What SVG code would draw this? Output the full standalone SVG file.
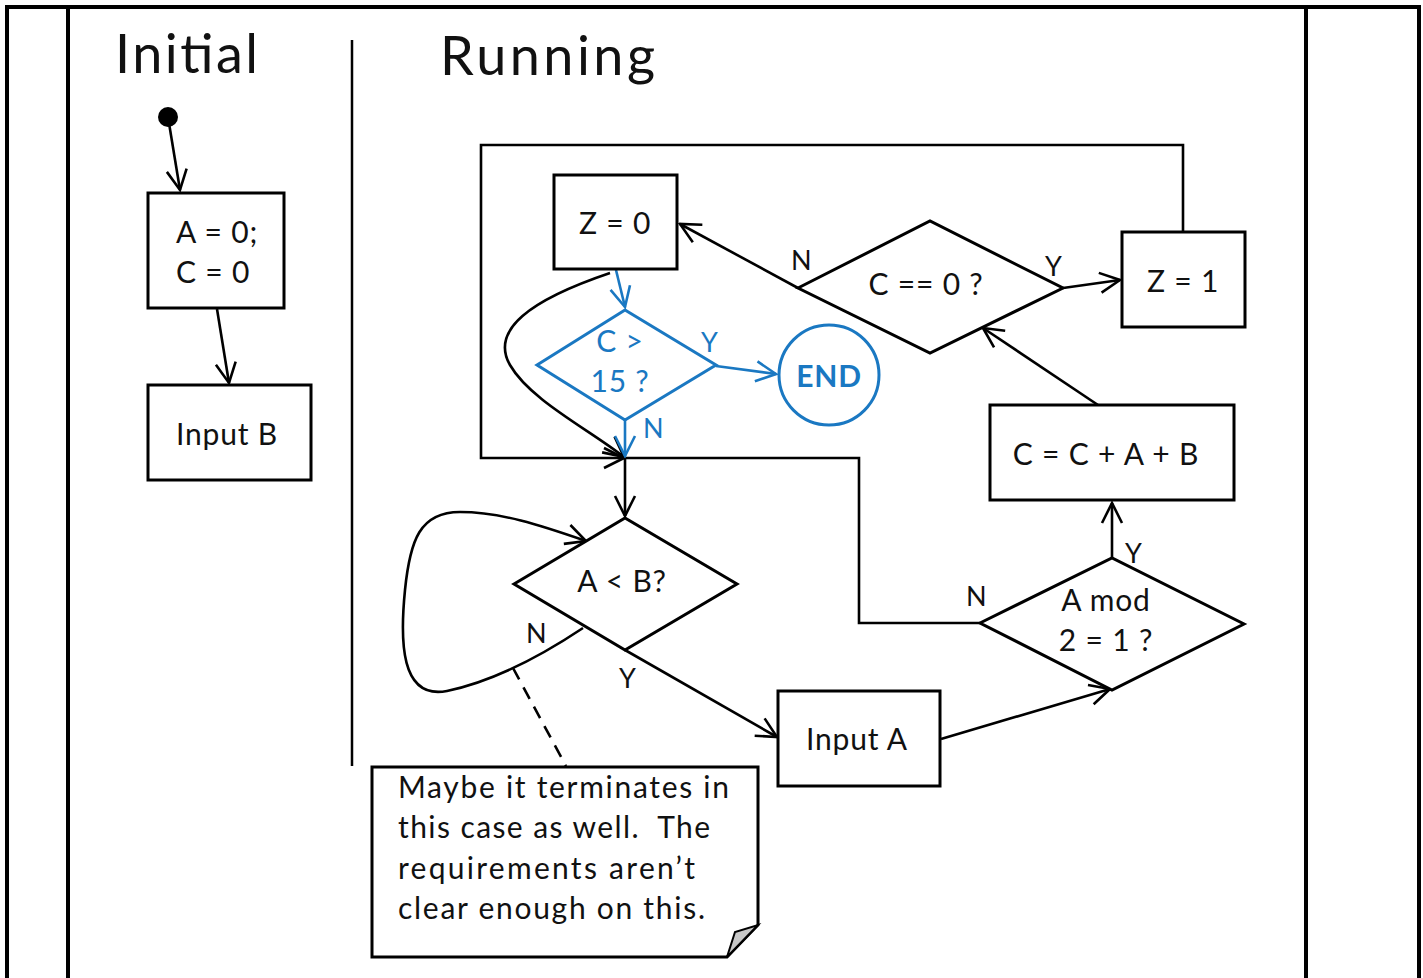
<svg xmlns="http://www.w3.org/2000/svg" width="1423" height="978" viewBox="0 0 1423 978">
<style>
text{font-family:Lato,"Liberation Sans",sans-serif;fill:#111}
.t{font-size:30px;letter-spacing:0.8px}
.n{font-size:30px}
.h{font-size:54px}
.lb{font-size:27px}
.b{fill:none;stroke:#000;stroke-width:3}
.box{fill:#fff;stroke:#000;stroke-width:3}
.blue{fill:none;stroke:#1a78c2;stroke-width:3}
.bt{fill:#1a78c2}
.c{fill:none;stroke:#000;stroke-width:2.6}
.ca{fill:none;stroke:#000;stroke-width:2.6;marker-end:url(#ah)}
.cb{fill:none;stroke:#1a78c2;stroke-width:2.6;marker-end:url(#ahb)}
</style>
<defs>
<marker id="ah" markerUnits="userSpaceOnUse" viewBox="0 0 24 24" refX="22" refY="12" markerWidth="24" markerHeight="24" orient="auto">
<path d="M2,2 L22,12 L2,22" fill="none" stroke="#000" stroke-width="2.6"/>
</marker>
<marker id="ahb" markerUnits="userSpaceOnUse" viewBox="0 0 24 24" refX="22" refY="12" markerWidth="24" markerHeight="24" orient="auto">
<path d="M2,2 L22,12 L2,22" fill="none" stroke="#1a78c2" stroke-width="2.6"/>
</marker>
</defs>
<rect width="1423" height="978" fill="#fff"/>
<g id="frame">
<path d="M7,978 V7 H1419 V978" fill="none" stroke="#000" stroke-width="4"/>
<line x1="68" y1="7" x2="68" y2="978" stroke="#000" stroke-width="4"/>
<line x1="1306" y1="7" x2="1306" y2="978" stroke="#000" stroke-width="4"/>
<line x1="352" y1="40" x2="352" y2="766" stroke="#000" stroke-width="2.5"/>
<text class="h" x="115" y="73" textLength="143" lengthAdjust="spacing">Initial</text>
<text class="h" x="440" y="75" textLength="215" lengthAdjust="spacing">Running</text>
</g>
<g id="connectors">
<line class="ca" x1="168" y1="117" x2="180" y2="190"/>
<line class="ca" x1="217" y1="309" x2="229" y2="383"/>
<line class="ca" x1="798" y1="288" x2="680" y2="224"/>
<line class="ca" x1="1063" y1="288" x2="1120" y2="280"/>
<path class="ca" d="M1183,232 V145 H481 V458 H624"/>
<path class="ca" d="M610,273 C530,300 490,330 510,365 C530,400 590,430 624,457"/>
<path class="c" d="M625,458 H859 V623 H980"/>
<line class="ca" x1="625" y1="458" x2="625" y2="516"/>
<path class="ca" d="M583,628 C550,650 500,680 447,691 C400,700 400,640 405,590 C410,540 420,512 460,512 C500,512 540,525 586,541"/>
<line class="ca" x1="625" y1="650" x2="777" y2="737"/>
<line class="ca" x1="941" y1="739" x2="1110" y2="689"/>
<line class="ca" x1="1112" y1="558" x2="1112" y2="503"/>
<line class="ca" x1="1098" y1="405" x2="983" y2="328"/>
<line x1="513" y1="668" x2="566" y2="766" stroke="#000" stroke-width="2.6" stroke-dasharray="13,9"/>
<line class="cb" x1="616" y1="270" x2="625" y2="307"/>
<line class="cb" x1="716" y1="366" x2="776" y2="374"/>
<line class="cb" x1="625" y1="420" x2="625" y2="456"/>
<text class="lb" x="791" y="270">N</text>
<text class="lb" x="1045" y="276">Y</text>
<text class="lb" x="526" y="643">N</text>
<text class="lb" x="619" y="688">Y</text>
<text class="lb" x="1125" y="563">Y</text>
<text class="lb" x="966" y="606">N</text>
<text class="lb bt" x="701" y="352">Y</text>
<text class="lb bt" x="643" y="438">N</text>
</g>
<g id="start"><circle cx="168" cy="117" r="10" fill="#000"/></g>
<g id="init">
<rect class="box" x="148" y="193" width="136" height="115"/>
<text class="t" x="176" y="243">A = 0;</text>
<text class="t" x="176" y="283">C = 0</text>
</g>
<g id="inputB">
<rect class="box" x="148" y="385" width="163" height="95"/>
<text class="t" x="176" y="445">Input B</text>
</g>
<g id="z0">
<rect class="box" x="554" y="175" width="123" height="94"/>
<text class="t" x="615" y="234" text-anchor="middle">Z = 0</text>
</g>
<g id="c0">
<polygon class="box" points="798,288 930,221 1063,288 930,353"/>
<text class="t" x="926" y="295" text-anchor="middle">C == 0 ?</text>
</g>
<g id="z1">
<rect class="box" x="1122" y="232" width="123" height="95"/>
<text class="t" x="1183" y="292" text-anchor="middle">Z = 1</text>
</g>
<g id="c15">
<polygon class="blue" points="537,365 625,310 716,365 625,420" style="fill:#fff"/>
<text class="t bt" x="620" y="352" text-anchor="middle">C &gt;</text>
<text class="t bt" x="620" y="392" text-anchor="middle">15 ?</text>
</g>
<g id="end">
<circle class="blue" cx="829" cy="375" r="50"/>
<text class="t bt" x="829" y="387" text-anchor="middle" font-weight="bold">END</text>
</g>
<g id="altb">
<polygon class="box" points="514,584 625,518 737,584 625,650"/>
<text class="t" x="622" y="592" text-anchor="middle">A &lt; B?</text>
</g>
<g id="inputA">
<rect class="box" x="778" y="691" width="162" height="95"/>
<text class="t" x="857" y="750" text-anchor="middle">Input A</text>
</g>
<g id="amod">
<polygon class="box" points="980,623 1112,558 1244,624 1112,690"/>
<text class="t" x="1106" y="611" text-anchor="middle">A mod</text>
<text class="t" x="1106" y="651" text-anchor="middle">2 = 1 ?</text>
</g>
<g id="cadd">
<rect class="box" x="990" y="405" width="244" height="95"/>
<text class="t" x="1106" y="465" text-anchor="middle">C = C + A + B</text>
</g>
<g id="note">
<polygon class="box" points="372,767 758,767 758,925 727,957 372,957"/>
<polygon points="727,957 735,932 758,925" fill="#c8c8c8" stroke="#000" stroke-width="2"/>
<text class="n" x="398" y="798" textLength="331" lengthAdjust="spacing">Maybe it terminates in</text>
<text class="n" x="398" y="838" textLength="312" lengthAdjust="spacing" xml:space="preserve">this case as well.  The</text>
<text class="n" x="398" y="879" textLength="297" lengthAdjust="spacing">requirements aren’t</text>
<text class="n" x="398" y="919" textLength="307" lengthAdjust="spacing">clear enough on this.</text>
</g>
</svg>
